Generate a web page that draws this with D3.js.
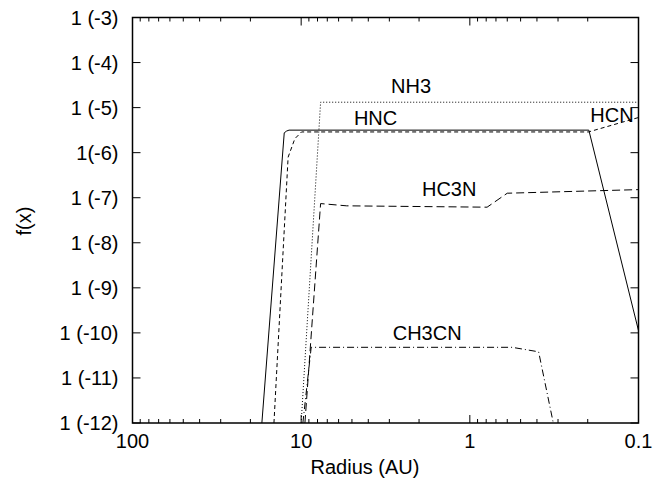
<!DOCTYPE html>
<html>
<head>
<meta charset="utf-8">
<script src="https://cdn.jsdelivr.net/npm/d3@7"></script>
<style>
  body { margin: 0; background: #fff; }
  text { font-family: "Liberation Sans", Arial, sans-serif; fill: #000; }
</style>
</head>
<body>
<div id="chart"></div>
<script>
// radius in AU, log10 abundance f(x)
const hncR = [17.1, 12.6, 12.2, 11.8, 0.197, 0.1];
const hncF = [-12, -5.56, -5.52, -5.5, -5.5, -9.95];

const hcnR = [14.5, 11.95, 10.9, 9.95, 0.198, 0.1];
const hcnF = [-12, -6.1, -5.69, -5.54, -5.54, -5.22];

const nh3R = [10.0, 7.67, 0.1];
const nh3F = [-12, -4.88, -4.88];

const hc3nR = [9.5, 7.67, 5.37, 0.79, 0.6, 0.1];
const hc3nF = [-12, -7.13, -7.18, -7.21, -6.9, -6.82];

const ch3cnR = [9.77, 8.72, 0.562, 0.391, 0.32];
const ch3cnF = [-12, -10.32, -10.32, -10.42, -12];

const xTicks = [100, 10, 1, 0.1];
const xTickLabels = ["100", "10", "1", "0.1"];
const yTicks = [-3, -4, -5, -6, -7, -8, -9, -10, -11, -12];
const yTickLabels = ["1 (-3)", "1 (-4)", "1 (-5)", "1(-6)", "1 (-7)", "1 (-8)", "1 (-9)", "1 (-10)", "1 (-11)", "1 (-12)"];

// labels placed in data coords
const labels = [
  { text: "NH3", r: 2.23, f: -4.51 },
  { text: "HNC", r: 3.62, f: -5.23 },
  { text: "HCN", r: 0.1435, f: -5.17 },
  { text: "HC3N", r: 1.325, f: -6.81 },
  { text: "CH3CN", r: 1.79, f: -10.0 },
];

const fs = 20;
const width = 667, height = 483;
const margin = { top: 17.5, right: 28.5, bottom: 60, left: 132.5 };
const innerW = width - margin.left - margin.right;
const innerH = height - margin.top - margin.bottom;

const svg = d3.select("#chart").append("svg")
  .attr("width", width)
  .attr("height", height);

const g = svg.append("g").attr("transform", `translate(${margin.left},${margin.top})`);

const x = d3.scaleLog().domain([100, 0.1]).range([0, innerW]);
const y = d3.scaleLinear().domain([-12, -3]).range([innerH, 0]);

// minor ticks for log axis
const minor = [];
[10, 1, 0.1].forEach(d => {
  for (let k = 2; k <= 9; k++) minor.push(d * k);
});

const tickG = g.append("g").attr("stroke", "#000").attr("stroke-width", 1);

// x ticks, bottom and top, inward
xTicks.forEach(t => {
  tickG.append("line").attr("x1", x(t)).attr("x2", x(t)).attr("y1", innerH).attr("y2", innerH - 8);
  tickG.append("line").attr("x1", x(t)).attr("x2", x(t)).attr("y1", 0).attr("y2", 8);
});
minor.forEach(t => {
  tickG.append("line").attr("x1", x(t)).attr("x2", x(t)).attr("y1", innerH).attr("y2", innerH - 4);
  tickG.append("line").attr("x1", x(t)).attr("x2", x(t)).attr("y1", 0).attr("y2", 4);
});
// y ticks, left and right
yTicks.forEach(t => {
  tickG.append("line").attr("x1", 0).attr("x2", 8).attr("y1", y(t)).attr("y2", y(t));
  tickG.append("line").attr("x1", innerW).attr("x2", innerW - 8).attr("y1", y(t)).attr("y2", y(t));
});

// tick labels
xTicks.forEach((t, i) => {
  g.append("text")
    .attr("x", x(t))
    .attr("y", innerH + 25)
    .attr("text-anchor", "middle")
    .attr("font-size", fs)
    .text(xTickLabels[i]);
});
yTicks.forEach((t, i) => {
  g.append("text")
    .attr("x", -14)
    .attr("y", y(t))
    .attr("dy", "0.36em")
    .attr("text-anchor", "end")
    .attr("font-size", fs)
    .text(yTickLabels[i]);
});

// axis titles
svg.append("text")
  .attr("x", 365)
  .attr("y", 474)
  .attr("text-anchor", "middle")
  .attr("font-size", fs)
  .text("Radius (AU)");

svg.append("text")
  .attr("transform", "translate(31,221) rotate(-90)")
  .attr("text-anchor", "middle")
  .attr("font-size", fs)
  .text("f(x)");

// curves
svg.append("clipPath").attr("id", "plotClip")
  .append("rect").attr("width", innerW).attr("height", innerH);

const line = d3.line()
  .x(d => x(d[0]))
  .y(d => y(d[1]));

function zip(r, f) { return r.map((v, i) => [v, f[i]]); }

const series = [
  { data: zip(hncR, hncF), dash: null },
  { data: zip(hcnR, hcnF), dash: "4,3" },
  { data: zip(nh3R, nh3F), dash: "1,2" },
  { data: zip(hc3nR, hc3nF), dash: "8,4" },
  { data: zip(ch3cnR, ch3cnF), dash: "7,3,1,3" },
];

const plot = g.append("g").attr("clip-path", "url(#plotClip)");
series.forEach(s => {
  plot.append("path")
    .attr("d", line(s.data))
    .attr("fill", "none")
    .attr("stroke", "#000")
    .attr("stroke-width", 1)
    .attr("stroke-dasharray", s.dash);
});

// curve labels
labels.forEach(l => {
  g.append("text")
    .attr("x", x(l.r))
    .attr("y", y(l.f))
    .attr("dy", "0.36em")
    .attr("text-anchor", "middle")
    .attr("font-size", fs)
    .text(l.text);
});

// frame
g.append("rect")
  .attr("width", innerW)
  .attr("height", innerH)
  .attr("fill", "none")
  .attr("stroke", "#000")
  .attr("stroke-width", 1.5);
</script>
</body>
</html>
